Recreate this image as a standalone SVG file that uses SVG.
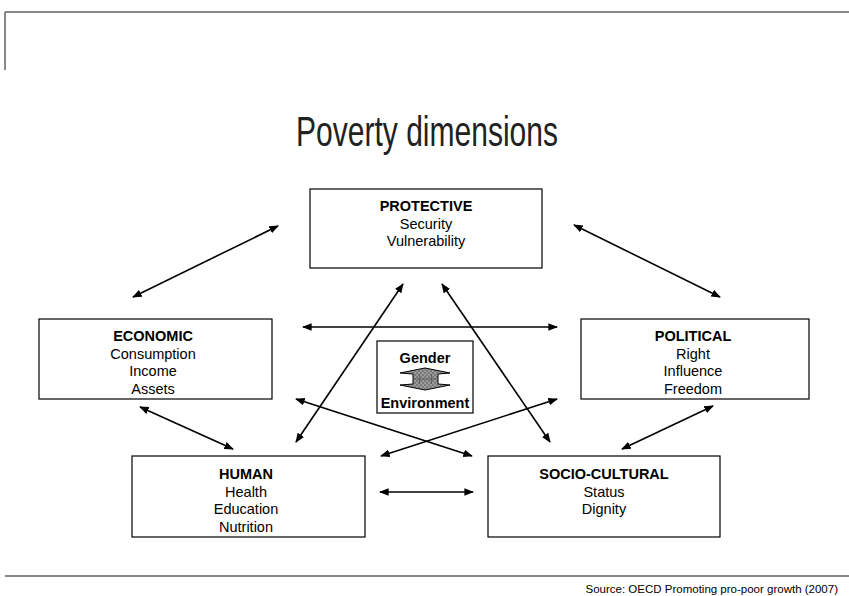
<svg xmlns="http://www.w3.org/2000/svg" width="849" height="596" viewBox="0 0 849 596">
<defs>
<style>
.box{fill:#fff;stroke:#000;stroke-width:1.2}
.t{font-family:"Liberation Sans",Arial,sans-serif;font-size:14.5px;fill:#000;text-anchor:middle}
.b{font-weight:bold}
.c{stroke:#000;stroke-width:1.6;fill:none;marker-start:url(#ah);marker-end:url(#ah)}
.rule{stroke:#888;stroke-width:2;fill:none}
</style>
<marker id="ah" viewBox="0 0 10 10" refX="9" refY="5" markerWidth="6" markerHeight="6" orient="auto-start-reverse" markerUnits="strokeWidth">
<path d="M0,1 L10,5 L0,9 z" fill="#000"/>
</marker>
<pattern id="grid" width="4" height="4" patternUnits="userSpaceOnUse">
<rect width="4" height="4" fill="#9a9a9a"/>
<rect width="2" height="2" fill="#7a7a7a"/>
<rect x="2" y="2" width="2" height="2" fill="#7a7a7a"/>
</pattern>
</defs>
<rect width="849" height="596" fill="#fff"/>
<g id="frame">
<path class="rule" d="M5,12 H849 M5,12 V70"/>
<path class="rule" d="M5,576 H849"/>
</g>
<text id="title" x="427" y="146" font-family="Liberation Sans,Arial,sans-serif" font-size="42" text-anchor="middle" textLength="262" lengthAdjust="spacingAndGlyphs" fill="#222">Poverty dimensions</text>
<g id="connectors">
<line class="c" x1="133" y1="297" x2="278" y2="226"/>
<line class="c" x1="574" y1="225" x2="720" y2="297"/>
<line class="c" x1="303" y1="327" x2="557" y2="327"/>
<line class="c" x1="296" y1="442" x2="403" y2="284"/>
<line class="c" x1="442" y1="284" x2="550" y2="442"/>
<line class="c" x1="296" y1="399" x2="472" y2="456"/>
<line class="c" x1="381" y1="456" x2="557" y2="399"/>
<line class="c" x1="140" y1="407" x2="233" y2="449"/>
<line class="c" x1="713" y1="406" x2="622" y2="449"/>
<line class="c" x1="380" y1="492" x2="473" y2="492"/>
</g>
<g id="protective">
<rect class="box" x="310" y="189" width="232" height="79"/>
<text class="t b" x="426" y="211">PROTECTIVE</text>
<text class="t" x="426" y="228.5">Security</text>
<text class="t" x="426" y="246">Vulnerability</text>
</g>
<g id="economic">
<rect class="box" x="39" y="319" width="233" height="80"/>
<text class="t b" x="153" y="341">ECONOMIC</text>
<text class="t" x="153" y="358.5">Consumption</text>
<text class="t" x="153" y="376">Income</text>
<text class="t" x="153" y="393.5">Assets</text>
</g>
<g id="political">
<rect class="box" x="581" y="319" width="228" height="80"/>
<text class="t b" x="693" y="341">POLITICAL</text>
<text class="t" x="693" y="358.5">Right</text>
<text class="t" x="693" y="376">Influence</text>
<text class="t" x="693" y="393.5">Freedom</text>
</g>
<g id="human">
<rect class="box" x="132" y="456" width="233" height="81"/>
<text class="t b" x="246" y="479">HUMAN</text>
<text class="t" x="246" y="496.5">Health</text>
<text class="t" x="246" y="514">Education</text>
<text class="t" x="246" y="531.5">Nutrition</text>
</g>
<g id="socio-cultural">
<rect class="box" x="488" y="456" width="232" height="81"/>
<text class="t b" x="604" y="479">SOCIO-CULTURAL</text>
<text class="t" x="604" y="496.5">Status</text>
<text class="t" x="604" y="514">Dignity</text>
</g>
<g id="gender-environment">
<rect class="box" x="377" y="341" width="96" height="72"/>
<text class="t b" x="425" y="363" font-size="15">Gender</text>
<path d="M425,368 L450,373 L438,374 L438,384 L450,385 L425,390 L400,385 L413,384 L413,374 L400,373 Z" fill="url(#grid)" stroke="#000" stroke-width="1"/>
<path d="M419.5,374 V384 M431.5,374 V384 M413,379 H438" stroke="#555" stroke-width="0.8"/>
<text class="t b" x="425" y="408" font-size="15">Environment</text>
</g>
<text id="source" x="838" y="593" font-family="Liberation Sans,Arial,sans-serif" font-size="11.5" text-anchor="end" fill="#000">Source: OECD Promoting pro-poor growth (2007)</text>
</svg>
